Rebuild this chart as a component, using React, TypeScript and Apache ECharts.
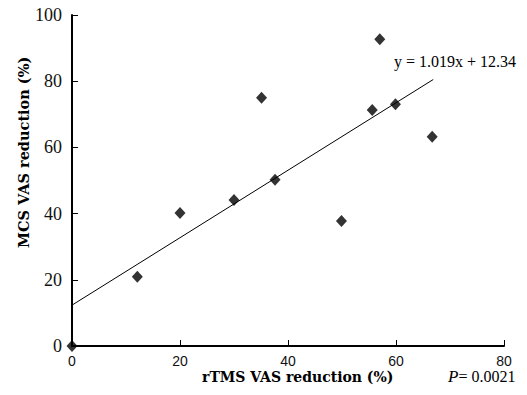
import React, { useEffect, useRef } from "react";
import * as echarts from "echarts";

const rtmsReduction = [0, 12.1, 20.0, 30.0, 35.1, 37.6, 49.9, 55.6, 57.0, 59.9, 66.7];
const mcsReduction = [0, 20.9, 40.2, 44.1, 75.0, 50.2, 37.8, 71.3, 92.7, 73.0, 63.2];
const slope = 1.019;
const intercept = 12.34;
const fitRange = [0, 66.9];
const xTicks = [0, 20, 40, 60, 80];
const yTicks = [0, 20, 40, 60, 80, 100];
const equationText = "y = 1.019x + 12.34";
const pValueText = "0.0021";

export default function App() {
  const ref = useRef<HTMLDivElement>(null);
  useEffect(() => {
    if (!ref.current) return;
    const chart = echarts.init(ref.current, null, { renderer: "svg" });
    const points = rtmsReduction.map((x, i) => [x, mcsReduction[i]]);
    const fit = fitRange.map((x) => [x, slope * x + intercept]);
    chart.setOption({
      animation: false,
      backgroundColor: "#ffffff",
      grid: { left: 72, right: 23, top: 15, bottom: 49, containLabel: false },
      xAxis: {
        type: "value",
        min: xTicks[0],
        max: xTicks[xTicks.length - 1],
        interval: 20,
        splitLine: { show: false },
        axisLine: { show: true, onZero: false, lineStyle: { color: "#000", width: 2 } },
        axisTick: { show: true, inside: true, length: 6, lineStyle: { color: "#000", width: 1 } },
        axisLabel: {
          color: "#111",
          fontFamily: "Liberation Sans",
          fontSize: 14,
          margin: 8,
        },
      },
      yAxis: {
        type: "value",
        min: yTicks[0],
        max: yTicks[yTicks.length - 1],
        interval: 20,
        splitLine: { show: false },
        axisLine: { show: true, onZero: false, lineStyle: { color: "#000", width: 2 } },
        axisTick: { show: true, inside: true, length: 6, lineStyle: { color: "#000", width: 1 } },
        axisLabel: {
          color: "#111",
          fontFamily: "Liberation Serif",
          fontSize: 18,
          margin: 10,
        },
      },
      graphic: [
        {
          type: "text",
          left: 202,
          top: 370,
          style: {
            text: "rTMS VAS reduction (%)",
            font: "bold 14px 'DejaVu Serif'",
            fill: "#000",
          },
        },
        {
          type: "text",
          x: 16,
          y: 248,
          rotation: Math.PI / 2,
          style: {
            text: "MCS VAS reduction (%)",
            font: "bold 14.5px 'DejaVu Serif'",
            fill: "#000",
            textVerticalAlign: "top",
          },
        },
        {
          type: "text",
          left: 394,
          top: 53,
          style: {
            text: equationText,
            font: "16px 'Liberation Serif'",
            fill: "#000",
          },
        },
        {
          type: "text",
          left: 448,
          top: 368,
          style: {
            text: "{i|P}= " + pValueText,
            fill: "#000",
            rich: {
              i: { fontFamily: "Liberation Serif", fontStyle: "italic", fontSize: 17, fill: "#000" },
            },
            font: "16px 'Liberation Serif'",
          },
        },
      ],
      series: [
        {
          type: "line",
          data: fit,
          symbol: "none",
          lineStyle: { color: "#000", width: 1 },
          silent: true,
          z: 2,
        },
        {
          type: "scatter",
          data: points,
          symbol: "diamond",
          symbolSize: [11, 12],
          itemStyle: { color: "#000" },
          clip: false,
          z: 3,
        },
      ],
    });
    return () => chart.dispose();
  }, []);
  return (
    <div
      ref={ref}
      style={{ position: "fixed", left: 0, top: 0, width: 527, height: 395 }}
    />
  );
}
